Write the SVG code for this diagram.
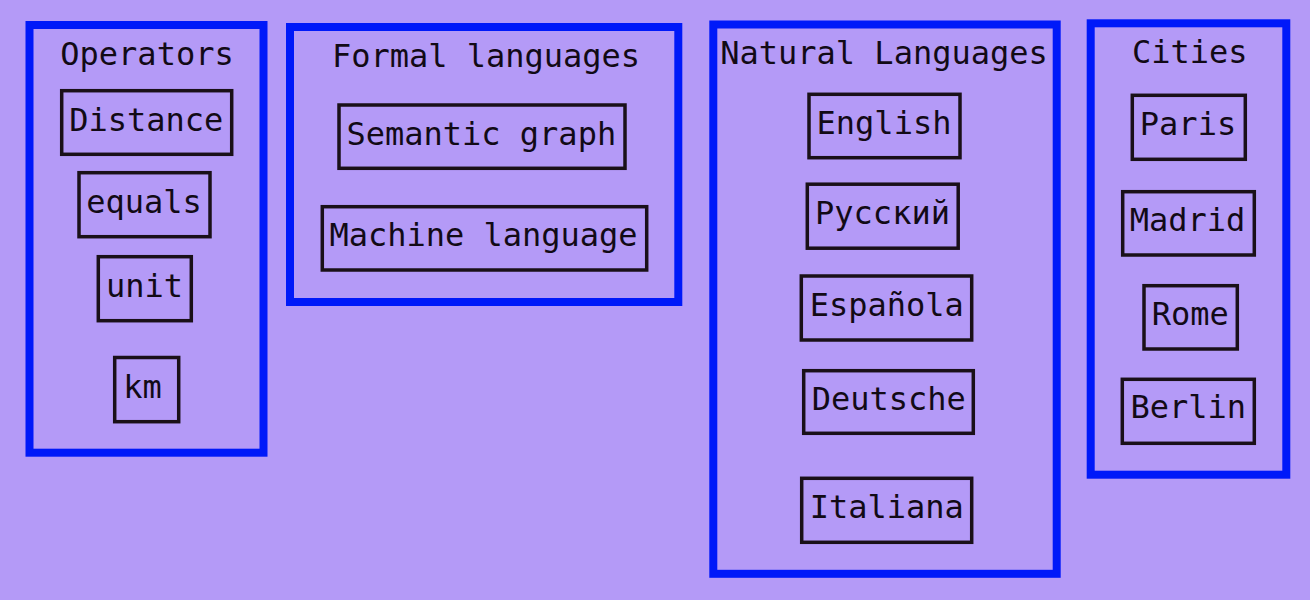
<svg xmlns="http://www.w3.org/2000/svg" width="1310" height="600" viewBox="0 0 1310 600">
<style>
.bg{fill:#b49af7}
.cluster{fill:none;stroke:#0019f9;stroke-width:8}
.node{fill:none;stroke:#1a1018;stroke-width:3.5}
text{font-family:"DejaVu Sans Mono","Liberation Mono",monospace;font-size:32px;fill:#120a16;text-anchor:middle}
</style>
<rect class="bg" x="0" y="0" width="1310" height="600"/>
<g id="cluster_operators">
<rect class="cluster" x="29.5" y="25" width="234" height="427.7"/>
<text x="147" y="65">Operators</text>
</g>
<g id="node_distance"><rect class="node" x="61.7" y="90.7" width="170" height="63.6"/><text x="146.2" y="131">Distance</text></g>
<g id="node_equals"><rect class="node" x="79" y="172.7" width="131" height="64"/><text x="144" y="212.5">equals</text></g>
<g id="node_unit"><rect class="node" x="98.3" y="256.7" width="93" height="64"/><text x="144.5" y="296.7">unit</text></g>
<g id="node_km"><rect class="node" x="114.7" y="357.5" width="64" height="64.2"/><text x="142.5" y="397.5">km</text></g>

<g id="cluster_formal">
<rect class="cluster" x="290" y="27" width="388.3" height="275"/>
<text x="486" y="67.3">Formal languages</text>
</g>
<g id="node_semantic"><rect class="node" x="339" y="105" width="286" height="63.3"/><text x="481.3" y="145">Semantic graph</text></g>
<g id="node_machine"><rect class="node" x="322.3" y="206.7" width="324.4" height="63.3"/><text x="483.5" y="246">Machine language</text></g>

<g id="cluster_natural">
<rect class="cluster" x="713.3" y="24.5" width="343.4" height="549.3"/>
<text x="884" y="64">Natural Languages</text>
</g>
<g id="node_english"><rect class="node" x="809" y="94.3" width="151" height="63.4"/><text x="884" y="134.3">English</text></g>
<g id="node_russian"><rect class="node" x="807.3" y="184.2" width="150.9" height="64"/><text x="882.5" y="224">Русский</text></g>
<g id="node_espanola"><rect class="node" x="801.3" y="276" width="170.4" height="64"/><text x="886.7" y="316">Española</text></g>
<g id="node_deutsche"><rect class="node" x="803.7" y="370.7" width="169.6" height="62.6"/><text x="888.7" y="409.5">Deutsche</text></g>
<g id="node_italiana"><rect class="node" x="801.7" y="478.3" width="170" height="64"/><text x="886.8" y="518.3">Italiana</text></g>

<g id="cluster_cities">
<rect class="cluster" x="1090.7" y="23.3" width="195.6" height="451.4"/>
<text x="1189.8" y="62.7">Cities</text>
</g>
<g id="node_paris"><rect class="node" x="1132.3" y="95.3" width="113" height="64"/><text x="1188" y="135">Paris</text></g>
<g id="node_madrid"><rect class="node" x="1122.7" y="191.7" width="131.6" height="63.3"/><text x="1187.5" y="230.7">Madrid</text></g>
<g id="node_rome"><rect class="node" x="1144" y="285.7" width="93.3" height="63.3"/><text x="1190.2" y="325">Rome</text></g>
<g id="node_berlin"><rect class="node" x="1122.3" y="379.3" width="132" height="64"/><text x="1188.3" y="418.3">Berlin</text></g>

<g id="connectors"></g>
</svg>
